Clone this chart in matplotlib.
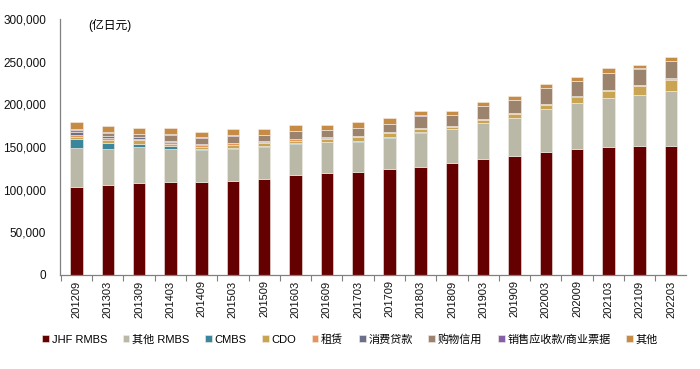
import matplotlib
matplotlib.use("Agg")
import matplotlib.pyplot as plt
import numpy as np
from matplotlib.ticker import FuncFormatter, FixedLocator

plt.rcParams['font.family'] = ['Liberation Sans', 'Noto Sans CJK SC', 'DejaVu Sans']

periods = ['201209', '201303', '201309', '201403', '201409', '201503', '201509',
           '201603', '201609', '201703', '201709', '201803', '201809', '201903',
           '201909', '202003', '202009', '202103', '202109', '202203']

# 亿日元
jhf_rmbs = [103000, 105000, 107500, 108600, 109400, 110200, 112100, 116800, 119200, 120700,
            123800, 127000, 131600, 135600, 139100, 144500, 148000, 150400, 151200, 151200]
other_rmbs = [46000, 42300, 42100, 39400, 36600, 37500, 37500, 36700, 36300, 35500,
              37100, 39800, 39100, 42200, 44500, 50000, 53900, 57400, 59700, 64400]
cmbs = [10000, 8000, 4300, 3000, 2000, 1500, 1500, 1000, 800, 700,
        500, 300, 300, 500, 300, 300, 300, 300, 300, 300]
cdo = [3000, 3000, 4000, 3000, 2500, 3000, 3500, 3000, 3500, 4500,
       4500, 4500, 3000, 3500, 4500, 5000, 6000, 8000, 10000, 13000]
lease = [2500, 2000, 1500, 2000, 2000, 2000, 1500, 1500, 1300, 1200,
         1200, 800, 800, 1000, 1000, 800, 1000, 1000, 1500, 1500]
consumer = [3000, 2500, 2000, 1500, 1000, 1000, 800, 800, 700, 700,
            500, 400, 400, 500, 300, 300, 300, 300, 300, 300]
shopping = [2500, 4000, 3500, 7000, 7500, 8000, 7500, 9000, 8000, 9000,
            9000, 14000, 12000, 15000, 15500, 18000, 17500, 19000, 19000, 20000]
receivables = [1000, 500, 500, 500, 500, 500, 300, 300, 300, 300,
               300, 300, 300, 300, 300, 300, 300, 300, 500, 500]
others = [8500, 7500, 7000, 7000, 6500, 7000, 6000, 7000, 6000, 6700,
          6700, 5500, 4300, 4100, 4300, 5000, 5100, 5500, 3600, 4600]

series = [
    ('JHF RMBS', jhf_rmbs, '#650000'),
    ('其他 RMBS', other_rmbs, '#BAB8A6'),
    ('CMBS', cmbs, '#3A879D'),
    ('CDO', cdo, '#C9A452'),
    ('租赁', lease, '#E5945C'),
    ('消费贷款', consumer, '#6C6F8C'),
    ('购物信用', shopping, '#9B836D'),
    ('销售应收款/商业票据', receivables, '#8660A6'),
    ('其他', others, '#C68C46'),
]

fig = plt.figure(figsize=(7.0, 3.69), dpi=100)
ax = fig.add_axes([0.086, 0.255, 0.894, 0.693])

x = np.arange(len(periods))
bottom = np.zeros(len(periods))
for name, vals, color in series:
    ax.bar(x, vals, width=0.4, bottom=bottom, color=color, label=name,
           edgecolor='#f3eee6', linewidth=0.4)
    bottom += np.array(vals)

ax.set_ylim(0, 300000)
ax.set_xlim(-0.52, len(periods) - 0.52)
ax.set_yticks(np.arange(0, 300001, 50000))
ax.yaxis.set_major_formatter(FuncFormatter(lambda v, p: f"{int(v):,}"))
ax.tick_params(axis='y', length=0, labelsize=8.5, pad=10, labelcolor='#111111')

ax.set_xticks(x)
ax.set_xticklabels(periods, rotation=90, fontsize=8)
ax.tick_params(axis='x', which='major', length=0, pad=4, labelcolor='#111111')
ax.xaxis.set_minor_locator(FixedLocator(np.arange(-0.5, len(periods), 1.0)))
ax.tick_params(axis='x', which='minor', length=4, color='#808080', width=0.8)

for s in ['top', 'right']:
    ax.spines[s].set_visible(False)
for s in ['left', 'bottom']:
    ax.spines[s].set_color('#808080')
    ax.spines[s].set_linewidth(0.9)

ax.text(0.045, 1.0, '(亿日元)', transform=ax.transAxes, fontsize=8.5,
        ha='left', va='top')

fig.legend(loc='center', bbox_to_anchor=(0.5, 0.08), ncol=9, frameon=False,
           fontsize=8, handlelength=0.6, handleheight=0.6, handletextpad=0.25,
           columnspacing=1.4)

fig.savefig('out.png', dpi=100)
